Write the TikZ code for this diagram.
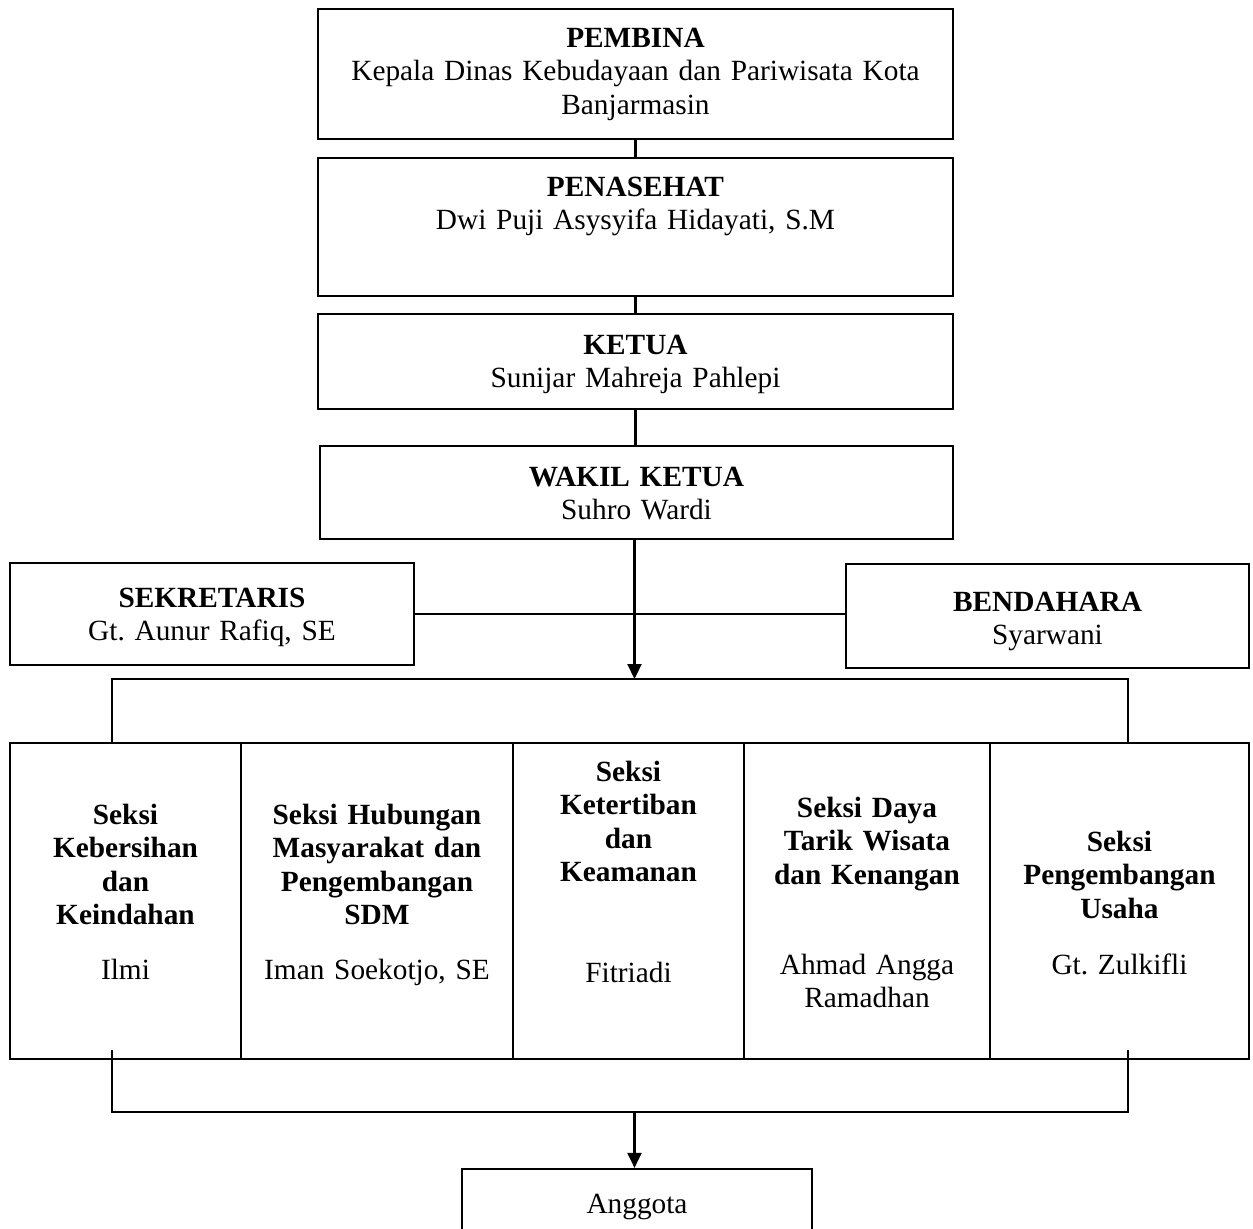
\documentclass[tikz,border=0pt]{standalone}
\usepackage{fontspec}
\setmainfont{Liberation Serif}
\usetikzlibrary{arrows.meta}
\frenchspacing
\begin{document}
\begin{tikzpicture}[x=0.5pt,y=-0.5pt,
  box/.style={draw, line width=1.1pt, inner sep=0pt, rectangle},
  txt/.style={inner sep=0pt, align=center, anchor=base, font=\frenchspacing\fontsize{14.66pt}{16.75pt}\selectfont},
  conn/.style={line width=1.1pt},
  arr/.style={conn, -{Triangle[length=7.5pt,width=7pt]}}]
\useasboundingbox (0,0) rectangle (1253,1228);
\fill[white] (0,0) rectangle (1253,1228);
\clip (0,0) rectangle (1253,1228);

% boxes
\node[box, minimum width=317.5pt, minimum height=65pt] (pemb) at (635.5,74) {};
\node[box, minimum width=317.5pt, minimum height=69pt] (penas) at (635.5,227) {};
\node[box, minimum width=317.5pt, minimum height=47.5pt] (ketua) at (635.5,361.5) {};
\node[box, minimum width=316.5pt, minimum height=46.5pt] (wakil) at (636.5,492.5) {};
\node[box, minimum width=202pt, minimum height=51pt] (sek) at (212,614) {};
\node[box, minimum width=201.5pt, minimum height=52pt] (ben) at (1047.5,616) {};
\node[box, minimum width=115.5pt, minimum height=158pt] (s1) at (125.5,901) {};
\node[box, minimum width=136pt, minimum height=158pt] (s2) at (377,901) {};
\node[box, minimum width=115.5pt, minimum height=158pt] (s3) at (628.5,901) {};
\node[box, minimum width=123pt, minimum height=158pt] (s4) at (867,901) {};
\node[box, minimum width=129.5pt, minimum height=158pt] (s5) at (1119.5,901) {};
\node[box, minimum width=175pt, minimum height=60.5pt] (ang) at (637,1229.5) {};

% texts
\node[txt, text width=310pt] (tpemb) at (635.5,47) {\textbf{PEMBINA}\\Kepala Dinas Kebudayaan dan Pariwisata Kota\\Banjarmasin};
\node[txt, text width=310pt] (tpenas) at (635.5,196) {\textbf{PENASEHAT}\\Dwi Puji Asysyifa Hidayati, S.M};
\node[txt, text width=310pt] (tketua) at (635.5,354) {\textbf{KETUA}\\Sunijar Mahreja Pahlepi};
\node[txt, text width=310pt] (twakil) at (636.5,486) {\textbf{WAKIL KETUA}\\Suhro Wardi};
\node[txt, text width=195pt] (tsek) at (212,607) {\textbf{SEKRETARIS}\\Gt. Aunur Rafiq, SE};
\node[txt, text width=195pt] (tben) at (1047.5,611) {\textbf{BENDAHARA}\\Syarwani};

\node[txt, text width=112pt] (ts1) at (125.5,824) {\bfseries Seksi\\Kebersihan\\dan\\Keindahan};
\node[txt, text width=112pt] (ns1) at (125.5,979) {Ilmi};
\node[txt, text width=132pt] (ts2) at (377,824) {\bfseries Seksi Hubungan\\Masyarakat dan\\Pengembangan\\SDM};
\node[txt, text width=132pt] (ns2) at (377,979) {Iman Soekotjo, SE};
\node[txt, text width=112pt] (ts3) at (628.5,781) {\bfseries Seksi\\Ketertiban\\dan\\Keamanan};
\node[txt, text width=112pt] (ns3) at (628.5,982) {Fitriadi};
\node[txt, text width=120pt] (ts4) at (867,817) {\bfseries Seksi Daya\\Tarik Wisata\\dan Kenangan};
\node[txt, text width=120pt] (ns4) at (867,974) {Ahmad Angga\\Ramadhan};
\node[txt, text width=126pt] (ts5) at (1119.5,851) {\bfseries Seksi\\Pengembangan\\Usaha};
\node[txt, text width=126pt] (ns5) at (1119.5,974) {Gt. Zulkifli};
\node[txt, text width=170pt] (tang) at (637,1213) {Anggota};

% connector coordinates
\coordinate (tm) at (634.5,679);
\coordinate (tl) at (112,679);
\coordinate (tr) at (1128,679);
\coordinate (bl0) at (112,1050);
\coordinate (br0) at (1128,1050);
\coordinate (bl) at (112,1112);
\coordinate (br) at (1128,1112);
\coordinate (bm) at (634.5,1112);

% connectors
\draw[conn] (pemb.south) -- (penas.north);
\draw[conn] (penas.south) -- (ketua.north);
\draw[conn] (ketua.south) -- (ketua.south |- wakil.north);
\draw[conn] (sek.east) -- (sek.east -| ben.west);
\draw[arr] (wakil.south -| tm) -- (tm);
\draw[conn] (tl |- s1.north) -- (tl) -- (tr) -- (tr |- s5.north);
\draw[conn] (bl0) -- (bl) -- (br) -- (br0);
\draw[arr] (bm) -- (bm |- ang.north);
\end{tikzpicture}
\end{document}
